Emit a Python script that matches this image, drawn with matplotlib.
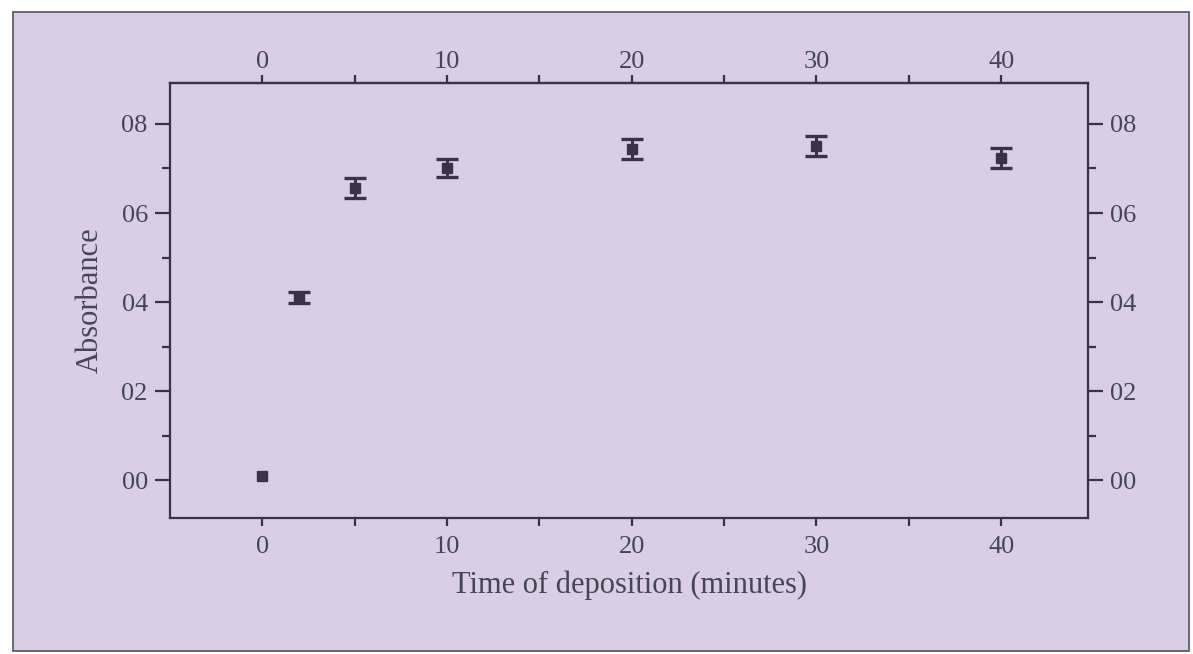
import matplotlib
matplotlib.use("Agg")
import matplotlib.pyplot as plt
from matplotlib.patches import Rectangle

# Data
time_min = [0, 2, 5, 10, 20, 30, 40]
absorbance = [0.009, 0.411, 0.656, 0.701, 0.744, 0.750, 0.724]
abs_err = [0.0, 0.012, 0.022, 0.020, 0.022, 0.022, 0.022]

y_ticks = [0.0, 0.2, 0.4, 0.6, 0.8]
y_tick_labels = ["00", "02", "04", "06", "08"]
x_ticks = [0, 10, 20, 30, 40]
x_tick_labels = ["0", "10", "20", "30", "40"]

bg = "#d9cfe5"
ink = "#3b3249"
text_col = "#4a4358"

plt.rcParams['font.family'] = ['Liberation Serif', 'DejaVu Serif']

fig = plt.figure(figsize=(11.93, 6.54), dpi=100)
fig.patch.set_facecolor("white")

# Outer lavender panel with thin frame
W, H = 1193.0, 654.0
fig.patches.append(Rectangle((13 / W, 1 - 651 / H), (1189 - 13) / W, (651 - 12) / H,
                             transform=fig.transFigure, facecolor=bg,
                             edgecolor="#55505e", linewidth=1.2, zorder=-10))

ax = fig.add_axes([170 / W, 1 - 518 / H, (1088 - 170) / W, (518 - 83) / H])
ax.set_facecolor(bg)

# markers for every point, error bars only where there is a spread
ax.plot(time_min, absorbance, "s", color=ink, markersize=7, zorder=4)
has_err = [i for i, e in enumerate(abs_err) if e > 0]
ax.errorbar([time_min[i] for i in has_err], [absorbance[i] for i in has_err],
            yerr=[abs_err[i] for i in has_err], fmt="none", ecolor=ink,
            elinewidth=2.2, capsize=8, capthick=2.4, zorder=3)

ax.set_xlim(-5, 44.7)
ax.set_ylim(-0.085, 0.892)

ax.set_xticks(x_ticks, x_tick_labels)
ax.set_xticks([5, 15, 25, 35], minor=True)
ax.set_yticks(y_ticks, y_tick_labels)
ax.set_yticks([0.1, 0.3, 0.5, 0.7], minor=True)

for s in ax.spines.values():
    s.set_linewidth(1.6)
    s.set_color(ink)

ax.tick_params(axis="both", which="both", direction="out", color=ink,
               width=1.6, labelsize=19, labelcolor=text_col)
ax.tick_params(axis="x", which="both", length=6, pad=7)
ax.tick_params(axis="y", which="major", length=11, right=True, labelright=True, pad=5)
ax.tick_params(axis="y", which="minor", length=6, right=True)

# top axis, labels sit closer to the ticks than on the bottom
top = ax.secondary_xaxis("top")
top.set_xticks(x_ticks, x_tick_labels)
top.set_xticks([5, 15, 25, 35], minor=True)
top.spines["top"].set_linewidth(1.6)
top.spines["top"].set_color(ink)
top.tick_params(axis="x", which="both", direction="out", length=6, width=1.6,
                color=ink, labelsize=19, labelcolor=text_col, pad=1)

ax.set_xlabel("Time of deposition (minutes)", fontsize=22, color=text_col, labelpad=9)
ax.set_ylabel("Absorbance", fontsize=22, color=text_col, labelpad=12)

fig.savefig("out.png", dpi=100, facecolor=fig.get_facecolor())
